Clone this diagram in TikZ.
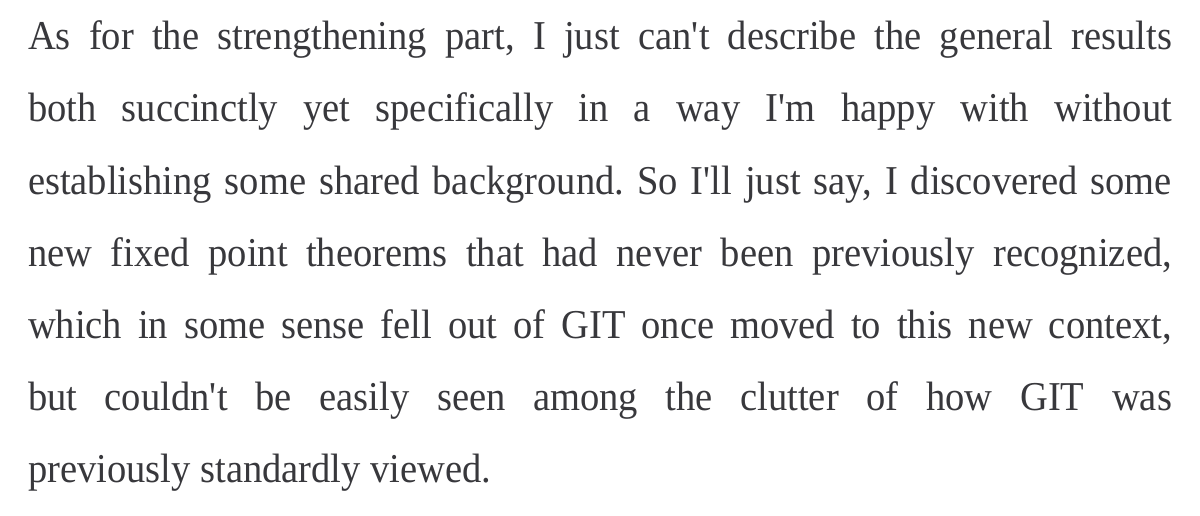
\documentclass[tikz,border=0pt]{standalone}
\usepackage{fontspec}
\setmainfont{Liberation Serif}[FakeStretch=0.94]
\definecolor{txt}{HTML}{38383C}
\newcommand{\ap}{\textquotesingle}
\tikzset{
  line/.style={anchor=base west, inner sep=0pt, outer sep=0pt, text=txt,
    font=\fontsize{41}{50}\selectfont\frenchspacing}
}
\begin{document}
\begin{tikzpicture}[x=1pt,y=1pt]
\useasboundingbox[fill=white] (0,0) rectangle (1200,-516);
\node[line] (l1) at (28,-50.0) {\makebox[1144pt][s]{As for the strengthening part, I just can\ap t describe the general results}};
\node[line] (l2) at (28,-122.0) {\makebox[1144pt][s]{both succinctly yet specifically in a way I\ap m happy with without}};
\node[line] (l3) at (28,-194.0) {\makebox[1144pt][s]{establishing some shared background. So I\ap ll just say, I discovered some}};
\node[line] (l4) at (28,-266.0) {\makebox[1144pt][s]{new fixed point theorems that had never been previously recognized,}};
\node[line] (l5) at (28,-338.0) {\makebox[1144pt][s]{which in some sense fell out of GIT once moved to this new context,}};
\node[line] (l6) at (28,-410.0) {\makebox[1144pt][s]{but couldn\ap t be easily seen among the clutter of how GIT was}};
\node[line] (l7) at (28,-482.0) {\makebox[1144pt][s]{previously standardly viewed.\hfill}};
\end{tikzpicture}
\end{document}
